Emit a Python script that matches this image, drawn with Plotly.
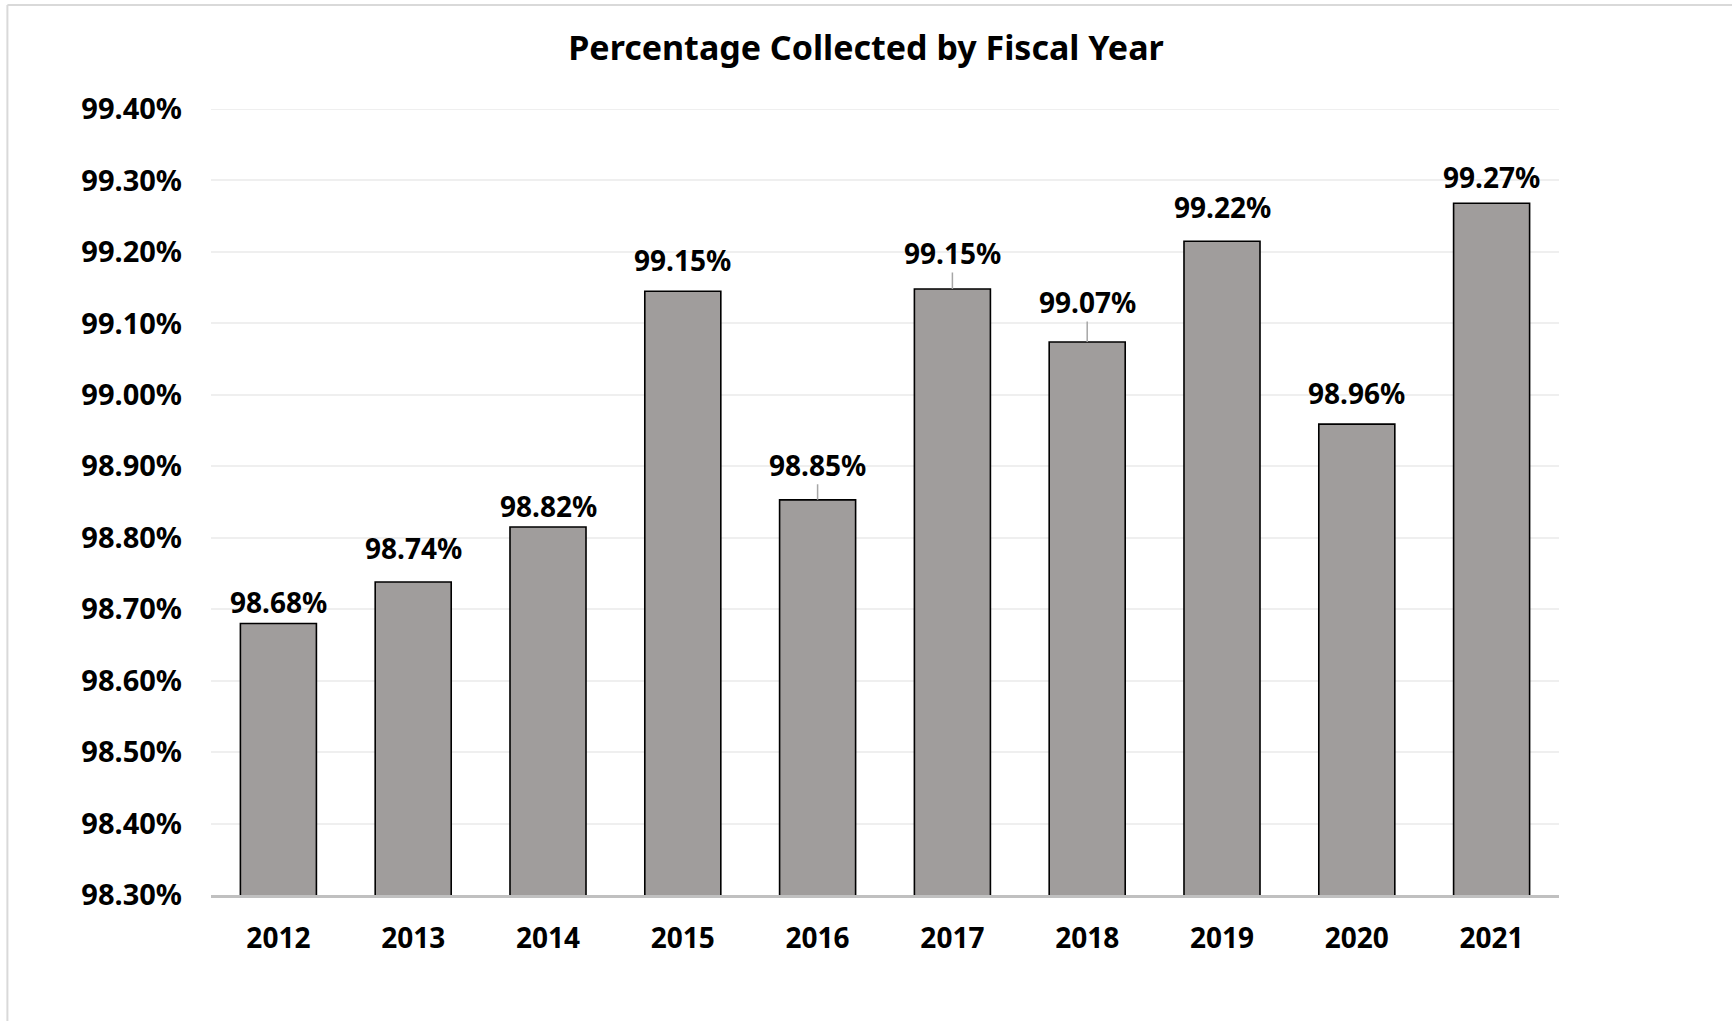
import plotly.graph_objects as go

# ---- data ----
years = ["2012", "2013", "2014", "2015", "2016", "2017", "2018", "2019", "2020", "2021"]
pct_collected = [98.680, 98.738, 98.815, 99.145, 98.853, 99.148, 99.074, 99.215, 98.959, 99.268]
value_labels = ["98.68%", "98.74%", "98.82%", "99.15%", "98.85%", "99.15%", "99.07%", "99.22%", "98.96%", "99.27%"]
y_tick_vals = [98.3, 98.4, 98.5, 98.6, 98.7, 98.8, 98.9, 99.0, 99.1, 99.2, 99.3, 99.4]
y_tick_text = ["98.30%", "98.40%", "98.50%", "98.60%", "98.70%", "98.80%", "98.90%", "99.00%",
               "99.10%", "99.20%", "99.30%", "99.40%"]
title_text = "Percentage Collected by Fiscal Year"

# ---- style ----
FONT = "Noto Sans"
label_lift_px = [21, 34, 21, 31, 35, 36, 40, 34, 31, 26]
label_leader = [False, False, False, False, True, True, True, False, False, False]

W, H = 1732, 1021
ML, MR, MT, MB = 210.6, 173.4, 108.5, 126
PW, PH = W - ML - MR, H - MT - MB

fig = go.Figure()
fig.add_trace(go.Bar(
    x=years, y=pct_collected,
    marker=dict(color="#a09d9c", line=dict(color="#000000", width=1.6)),
    hoverinfo="skip",
))

annotations = []
for i, (v, txt, lift, lead) in enumerate(zip(pct_collected, value_labels, label_lift_px, label_leader)):
    font = dict(family=FONT, size=28, color="#000000", weight="bold")
    if lead:
        annotations.append(dict(
            x=i, y=v, xref="x", yref="y", text=txt, showarrow=True,
            arrowhead=0, arrowwidth=1.5, arrowcolor="#a6a6a6", standoff=0,
            ax=0, ay=-lift, axref="pixel", ayref="pixel",
            font=font, borderpad=0,
        ))
    else:
        annotations.append(dict(
            x=i, y=v, xref="x", yref="y", text=txt, showarrow=False,
            yanchor="middle", yshift=lift, font=font,
        ))

fig.update_layout(
    width=W, height=H,
    margin=dict(l=ML, r=MR, t=MT, b=MB, pad=0),
    paper_bgcolor="white", plot_bgcolor="white",
    showlegend=False,
    bargap=0.436,
    title=dict(
        text=title_text, x=0.5, xref="container", xanchor="center",
        y=1 - 48 / H, yref="container", yanchor="middle",
        font=dict(family=FONT, size=34, color="#000000", weight="bold"),
    ),
    annotations=annotations,
    shapes=[
        # top gridline at the upper edge of the value range
        dict(type="line", xref="paper", yref="y", layer="below",
             x0=0, x1=1, y0=y_tick_vals[-1], y1=y_tick_vals[-1],
             line=dict(color="#efefef", width=2)),
        # outer chart border (left and top visible)
        dict(type="line", xref="paper", yref="paper",
             x0=(7 - ML) / PW, x1=(7 - ML) / PW, y0=-0.3, y1=1 + (MT - 4.5) / PH,
             line=dict(color="#d9d9d9", width=2)),
        dict(type="line", xref="paper", yref="paper",
             x0=(7 - ML) / PW, x1=1.3, y0=1 + (MT - 4.5) / PH, y1=1 + (MT - 4.5) / PH,
             line=dict(color="#d9d9d9", width=2)),
    ],
)

fig.update_xaxes(
    type="category", range=[-0.5, len(years) - 0.5], autorange=False,
    showgrid=False, showline=True, linecolor="#c0c0c0", linewidth=3,
    ticks="", ticklabelstandoff=16,
    tickfont=dict(family=FONT, size=28, color="#000000", weight="bold"),
    fixedrange=True,
)
fig.update_yaxes(
    range=[98.3, 99.4], autorange=False,
    tickvals=y_tick_vals, ticktext=y_tick_text,
    showgrid=True, gridcolor="#efefef", gridwidth=2,
    zeroline=False, showline=False, ticks="", ticklabelstandoff=28,
    tickfont=dict(family=FONT, size=29, color="#000000", weight="bold"),
    fixedrange=True,
)

fig.write_html("out.html")
